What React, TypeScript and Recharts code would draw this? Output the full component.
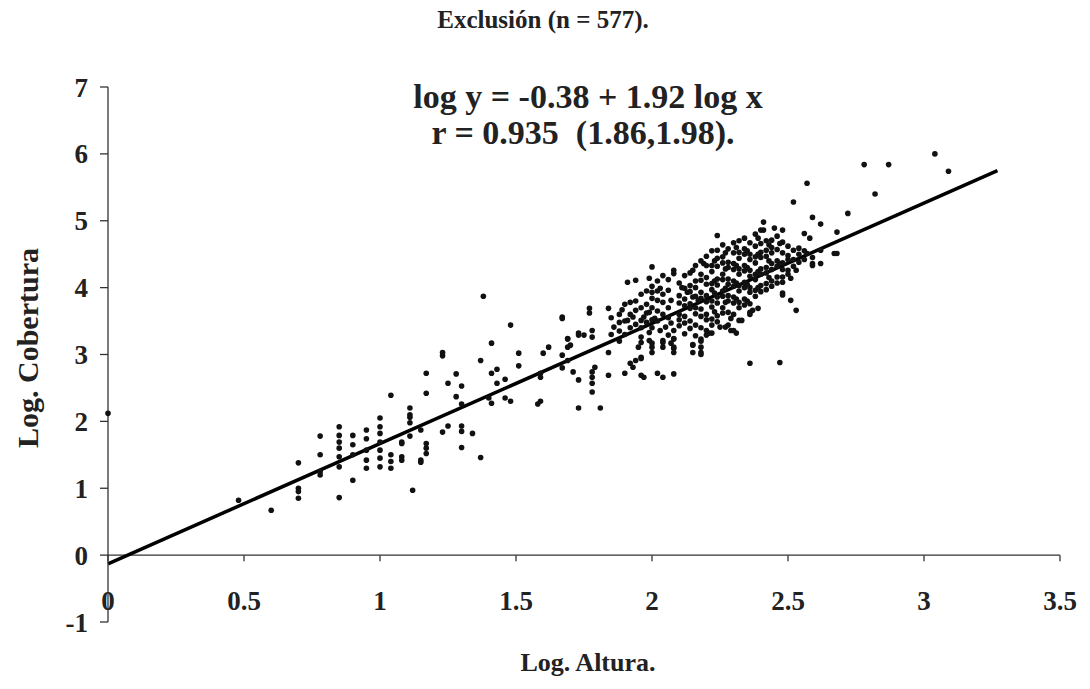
import { ScatterChart, Scatter, XAxis, YAxis, ReferenceLine, ReferenceDot } from 'recharts'

// log altura (x) columns and the log cobertura (y) values read at each column
const altura = [
  0.0, 0.48, 0.6, 0.7, 0.78, 0.85, 0.9, 0.95, 1.0, 1.04, 1.08, 1.11, 1.12, 1.15, 1.17, 1.23, 1.25, 1.28, 1.3, 1.34,
  1.37, 1.38, 1.4, 1.41, 1.43, 1.46, 1.48, 1.51, 1.58, 1.59, 1.6, 1.62, 1.67, 1.69, 1.7, 1.71, 1.73, 1.75, 1.77, 1.78,
  1.79, 1.81, 1.84, 1.85, 1.86, 1.88, 1.89, 1.9, 1.91, 1.92, 1.93, 1.94, 1.95, 1.96, 1.97, 1.98, 1.99, 2.0, 2.01, 2.02,
  2.03, 2.04, 2.05, 2.06, 2.07, 2.08, 2.1, 2.11, 2.12, 2.13, 2.14, 2.15, 2.16, 2.17, 2.18, 2.19, 2.2, 2.21, 2.22, 2.23,
  2.24, 2.25, 2.26, 2.27, 2.28, 2.29, 2.3, 2.31, 2.32, 2.33, 2.34, 2.35, 2.36, 2.37, 2.38, 2.39, 2.4, 2.41, 2.42, 2.43,
  2.44, 2.45, 2.46, 2.47, 2.48, 2.5, 2.51, 2.52, 2.53, 2.54, 2.56, 2.57, 2.58, 2.59, 2.62, 2.67, 2.68, 2.72, 2.78, 2.82,
  2.87, 3.04, 3.09,
]

const cobertura = [
  [2.12], [0.82], [0.67], [1.38, 1.0, 0.95, 0.85], [1.78, 1.5, 1.25, 1.2],
  [1.92, 1.79, 1.69, 1.6, 1.47, 1.32, 0.86], [1.79, 1.65, 1.5, 1.12], [1.87, 1.74, 1.57, 1.42, 1.3],
  [2.05, 1.92, 1.82, 1.69, 1.57, 1.45, 1.32], [2.39, 1.5, 1.4, 1.3], [1.69, 1.67, 1.47, 1.42],
  [2.2, 2.1, 2.06, 1.98, 1.78], [0.97], [1.87, 1.42, 1.39], [2.72, 2.42, 1.67, 1.6, 1.52],
  [3.03, 2.98, 1.84], [2.57, 1.93], [2.71, 2.37], [2.53, 2.26, 1.93, 1.85, 1.61], [1.82],
  [2.91, 1.46], [3.87], [2.35], [3.17, 2.72, 2.27], [2.78, 2.57], [2.63, 2.35], [3.44, 2.3], [3.02, 2.83],
  [2.26], [2.72, 2.66, 2.3], [3.02], [3.11], [3.56, 3.54, 2.99, 2.8], [3.24, 3.23, 3.11, 2.91], [3.14],
  [2.74], [3.32, 3.29, 2.62, 2.2], [3.29], [3.69, 3.62], [3.36, 3.26, 2.74, 2.66, 2.57, 2.44],
  [2.81], [2.2], [3.69, 3.03, 2.69], [3.55, 3.3], [3.41], [3.6, 3.48, 3.35, 3.2], [3.67],
  [3.75, 3.5, 3.3, 2.72], [4.08, 3.51], [3.78, 3.6, 3.4, 2.87], [3.56, 2.81], [4.11, 3.8, 3.66, 3.45, 2.91],
  [3.11], [3.9, 3.7, 3.51, 3.4, 3.26, 3.18, 2.96, 2.94, 2.69], [3.56, 2.66], [3.95, 3.75, 3.62, 3.48],
  [4.14, 3.63, 3.33, 3.21], [4.31, 4.02, 3.93, 3.84, 3.7, 3.52, 3.4, 3.17, 3.11, 3.03], [3.54],
  [4.1, 3.95, 3.81, 3.65, 3.5, 2.72], [3.99, 3.36], [4.18, 3.9, 3.78, 3.6, 3.21, 3.18, 3.11, 2.66], [3.41],
  [4.12, 3.96, 3.7, 3.55, 3.29], [3.81, 3.47, 3.17], [4.26, 4.21, 3.36, 3.24, 3.23, 3.11, 3.09, 3.03, 2.71],
  [4.07, 3.88, 3.77, 3.6, 3.52, 3.43], [4.0], [4.18, 3.99, 3.83, 3.73, 3.57, 3.47, 3.31], [3.93],
  [4.22, 4.03, 3.94, 3.76, 3.69, 3.5, 3.39], [4.26, 3.86, 3.15, 3.14, 3.03],
  [4.33, 4.1, 4.0, 3.87, 3.7, 3.61, 3.44, 3.28], [3.81],
  [4.4, 4.2, 4.11, 3.93, 3.84, 3.68, 3.57, 3.4, 3.23, 3.2, 3.11, 3.03, 3.0], [4.36],
  [4.47, 4.33, 4.15, 4.05, 3.88, 3.79, 3.6, 3.52, 3.36, 3.29], [3.32],
  [4.55, 4.33, 4.24, 4.06, 3.97, 3.8, 3.71, 3.53, 3.44, 3.32], [4.4, 4.1, 3.92, 3.64],
  [4.78, 4.56, 4.44, 4.32, 4.13, 4.04, 3.86, 3.77, 3.58, 3.49], [3.41],
  [4.64, 4.46, 4.37, 4.2, 4.12, 3.95, 3.87, 3.7, 3.62], [4.52, 4.28, 3.99, 3.78, 3.41],
  [4.58, 4.38, 4.3, 4.13, 4.05, 3.88, 3.8, 3.63, 3.44], [3.54, 3.36],
  [4.67, 4.52, 4.36, 4.27, 4.1, 4.02, 3.86, 3.77, 3.6, 3.36], [4.6, 4.33, 4.07, 3.83, 3.32],
  [4.7, 4.53, 4.44, 4.28, 4.2, 4.03, 3.95, 3.78, 3.7, 3.51], [3.51],
  [4.74, 4.58, 4.5, 4.33, 4.25, 4.08, 4.0, 3.83, 3.74], [4.55, 4.3, 4.05, 3.8],
  [4.67, 4.5, 4.42, 4.26, 4.17, 4.0, 3.93, 3.76, 3.63, 3.6, 2.87], [3.66],
  [4.8, 4.62, 4.46, 4.37, 4.2, 4.12, 3.96, 3.87], [4.74, 4.5, 4.24, 4.0, 3.69],
  [4.86, 4.66, 4.53, 4.45, 4.28, 4.2, 4.03, 3.94], [4.98, 4.86],
  [4.7, 4.56, 4.47, 4.3, 4.22, 4.06, 3.97], [4.64, 4.4, 4.15],
  [4.71, 4.6, 4.52, 4.36, 4.27, 4.1, 4.02], [4.89],
  [4.77, 4.57, 4.4, 4.32, 4.16, 4.07], [4.66, 4.36, 2.88],
  [4.86, 4.68, 4.52, 4.37, 4.27, 4.16, 4.08, 3.92, 3.89], [4.62, 4.48, 4.42, 4.26, 4.2], [4.14, 3.81],
  [5.28, 4.56, 4.42, 4.32], [4.26, 3.66], [4.59, 4.5, 4.38], [4.81, 4.55, 4.42], [5.56, 4.51], [4.74],
  [5.05, 4.45, 4.36, 4.33], [4.95, 4.56, 4.36], [4.51], [4.83, 4.51], [5.11], [5.84], [5.4],
  [5.84], [6.0], [5.74],
]

const xTicks = [0, 0.5, 1, 1.5, 2, 2.5, 3, 3.5]
const yTicks = [-1, 0, 1, 2, 3, 4, 5, 6, 7]
const fitLine = [{ x: 0, y: -0.13 }, { x: 3.27, y: 5.75 }]

const points = altura.flatMap((x, i) => cobertura[i].map((y) => ({ x, y })))

const serif = '"Liberation Serif", "Times New Roman", serif'

function Dot(props: any) {
  return <circle cx={props.cx} cy={props.cy} r={2.8} fill="#111" />
}

function XTick({ cx, cy, text }: { cx: number; cy: number; text: string }) {
  return (
    <g>
      <line x1={cx} y1={cy} x2={cx} y2={cy + 6} stroke="#333" strokeWidth={1.3} />
      <text x={cx} y={cy + 55} textAnchor="middle" fontFamily={serif} fontWeight="bold" fontSize={27} fill="#222">
        {text}
      </text>
    </g>
  )
}

const textStyle = {
  position: 'absolute' as const,
  fontFamily: serif,
  fontWeight: 'bold' as const,
  color: '#222',
  whiteSpace: 'nowrap' as const,
  textAlign: 'center' as const,
  width: 600,
}

export default function App() {
  return (
    <div style={{ position: 'absolute', left: 0, top: 0, width: 1090, height: 689, background: '#fff' }}>
      <ScatterChart width={1090} height={689} margin={{ top: 87, right: 30, bottom: 67, left: 0 }}>
        <XAxis type="number" dataKey="x" domain={[0, 3.5]} ticks={xTicks} hide />
        <YAxis
          type="number"
          dataKey="y"
          domain={[-1, 7]}
          ticks={yTicks}
          width={108}
          tickSize={8}
          tickMargin={12}
          axisLine={{ stroke: '#333', strokeWidth: 1.3 }}
          tickLine={{ stroke: '#333', strokeWidth: 1.3 }}
          tick={{ fontFamily: serif, fontWeight: 'bold', fontSize: 27, fill: '#222' }}
        />
        <ReferenceLine y={0} stroke="#333" strokeWidth={1.3} />
        {xTicks.map((t) => (
          <ReferenceDot
            key={t}
            x={t}
            y={0}
            shape={(p: any) => <XTick cx={p.cx} cy={p.cy} text={String(t)} />}
          />
        ))}
        <Scatter data={points} isAnimationActive={false} shape={<Dot />} />
        <ReferenceLine segment={fitLine} stroke="#000" strokeWidth={3.5} />
      </ScatterChart>

      <div style={{ ...textStyle, left: 543 - 300, top: 6, fontSize: 25 }}>Exclusión (n = 577).</div>
      <div style={{ ...textStyle, left: 588 - 300, top: 78, fontSize: 34 }}>log y = -0.38 + 1.92 log x</div>
      <div style={{ ...textStyle, left: 583 - 300, top: 114, fontSize: 34 }}>r = 0.935&nbsp;&nbsp;(1.86,1.98).</div>
      <div style={{ ...textStyle, left: 588 - 300, top: 648, fontSize: 26 }}>Log. Altura.</div>
      <div
        style={{
          ...textStyle,
          left: 28 - 300,
          top: 348 - 17,
          fontSize: 30,
          lineHeight: '34px',
          transform: 'rotate(-90deg)',
        }}
      >
        Log. Cobertura
      </div>
    </div>
  )
}
